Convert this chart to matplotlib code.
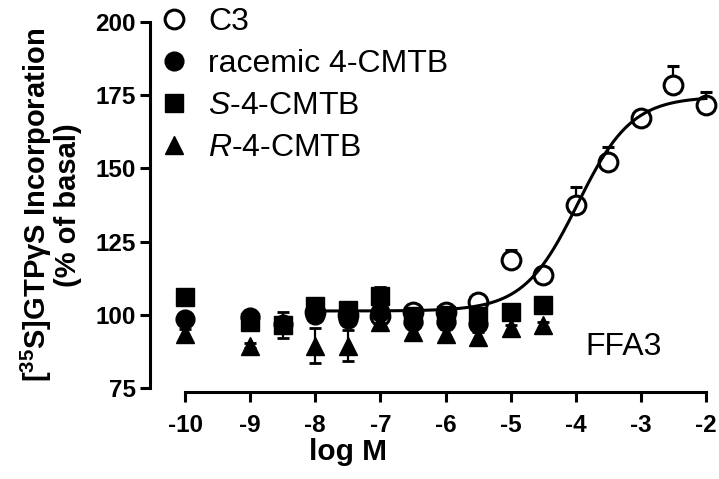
import numpy as np
import matplotlib
matplotlib.use("Agg")
import matplotlib.pyplot as plt

plt.rcParams["font.family"] = ["Liberation Sans", "DejaVu Sans"]
plt.rcParams["mathtext.fontset"] = "custom"
plt.rcParams["mathtext.rm"] = "Liberation Sans"
plt.rcParams["mathtext.it"] = "Liberation Sans:italic"
plt.rcParams["mathtext.bf"] = "Liberation Sans:bold"
plt.rcParams["axes.unicode_minus"] = False

# =========================
# Data
# =========================
logm_c3 = [-8, -7.5, -7, -6.5, -6, -5.5, -5, -4.5, -4, -3.5, -3, -2.5, -2]
c3 = [101, 100, 99.5, 101, 101, 104.5, 118.7, 113.6, 137.5, 152.3, 167.1, 178.5, 171.7]
c3_err = [2, 2, 3, 2, 2.5, 2.3, 3.4, 1, 6.3, 5, 1, 6.5, 4.5]

logm_rac = [-10, -9, -8.5, -8, -7.5, -7, -6.5, -6, -5.5]
rac = [98.5, 99.3, 97, 100, 98.5, 101, 97.5, 97.7, 97]
rac_err = [1.5, 1, 1.5, 2, 1.5, 1.5, 1.5, 1.5, 1.5]

logm_s = [-10, -9, -8.5, -8, -7.5, -7, -6.5, -6, -5.5, -5, -4.5]
s_cmtb = [106, 97.5, 96.5, 103, 101.5, 106.5, 99.5, 100, 99.5, 101, 103.5]
s_err = [2, 1, 4.5, 2, 2, 3, 1.5, 1.5, 1.5, 1, 1]

logm_r = [-10, -9, -8.5, -8, -7.5, -7, -6.5, -6, -5.5, -5, -4.5]
r_cmtb = [93.5, 89.5, 97, 89.5, 89.5, 97.5, 94, 93.5, 92.5, 95.5, 96.5]
r_err = [1.5, 1, 1.5, 6, 5.3, 1.5, 1.5, 1.5, 1.5, 1, 1]

# sigmoidal fit of C3 (bottom, top, logEC50, hill slope)
fit_bottom, fit_top, fit_logec50, fit_hill = 101.3, 174.5, -3.97, 1.05

# =========================
# Figure
# =========================
fig = plt.figure(figsize=(7.19, 4.79), dpi=100)
ax = fig.add_axes([150 / 719, 1 - 392 / 479, 556 / 719, 370 / 479])

lw = 2.2
eb = dict(ecolor="black", elinewidth=1.6, capsize=4.3, capthick=2.0, linestyle="none")

h_c3 = ax.errorbar(logm_c3, c3, yerr=[np.zeros(len(c3_err)), c3_err], marker="o", ms=13.5,
                   mfc="white", mec="black", mew=2.2, zorder=3, clip_on=False, **eb)

xfit = np.linspace(-8, -2, 300)
yfit = fit_bottom + (fit_top - fit_bottom) / (1 + 10 ** ((fit_logec50 - xfit) * fit_hill))
ax.plot(xfit, yfit, color="black", lw=lw, zorder=4, clip_on=False)

h_rac = ax.errorbar(logm_rac, rac, yerr=rac_err, marker="o", ms=13.5, mfc="black", mec="black",
                    zorder=5, clip_on=False, **eb)
h_s = ax.errorbar(logm_s, s_cmtb, yerr=s_err, marker="s", ms=12.5, mfc="black", mec="black",
                  zorder=6, clip_on=False, **eb)
h_r = ax.errorbar(logm_r, r_cmtb, yerr=r_err, marker="^", ms=13, mfc="black", mec="black",
                  zorder=7, clip_on=False, **eb)

ax.set_xlim(-10 - 35 / 65.1, -2)
ax.set_ylim(75 - 4 / 2.928, 200)

for side in ["top", "right"]:
    ax.spines[side].set_visible(False)
ax.spines["left"].set_linewidth(lw)
ax.spines["bottom"].set_linewidth(lw)
ax.spines["left"].set_bounds(75, 200)
ax.spines["bottom"].set_bounds(-10, -2)
ax.spines["left"].set_capstyle("projecting")
ax.spines["bottom"].set_capstyle("projecting")

ax.set_xticks(np.arange(-10, -1, 1))
ax.set_yticks([75, 100, 125, 150, 175, 200])
ax.tick_params(direction="out", length=7, width=lw, labelsize=17.5)
ax.tick_params(axis="x", pad=9)
ax.tick_params(axis="y", pad=3)
for lab in ax.get_xticklabels() + ax.get_yticklabels():
    lab.set_fontweight("bold")

ax.set_xlabel("log M", fontsize=21.5, fontweight="bold", va="top")
ax.xaxis.set_label_coords(0.356, -0.123)
ax.set_ylabel("[$\\mathbf{^{35}}$S]GTP\u03b3S Incorporation\n(% of basal)", fontsize=21,
              fontweight="bold", linespacing=1.0)
ax.yaxis.set_label_coords(-0.122, 0.505)

ax.text(-3.27, 89, "FFA3", fontsize=23, ha="center", va="center")

leg = ax.legend([h_c3[0], h_rac[0], h_s[0], h_r[0]],
                ["C3", "racemic 4-CMTB", "$S$-4-CMTB", "$R$-4-CMTB"],
                loc="upper left", bbox_to_anchor=(160 / 719, 1 - 7 / 479),
                bbox_transform=fig.transFigure, frameon=False, fontsize=23,
                handlelength=0.9, handletextpad=0.6, labelspacing=0.38, borderpad=0,
                borderaxespad=0, numpoints=1)

fig.savefig("out.png", dpi=100)
